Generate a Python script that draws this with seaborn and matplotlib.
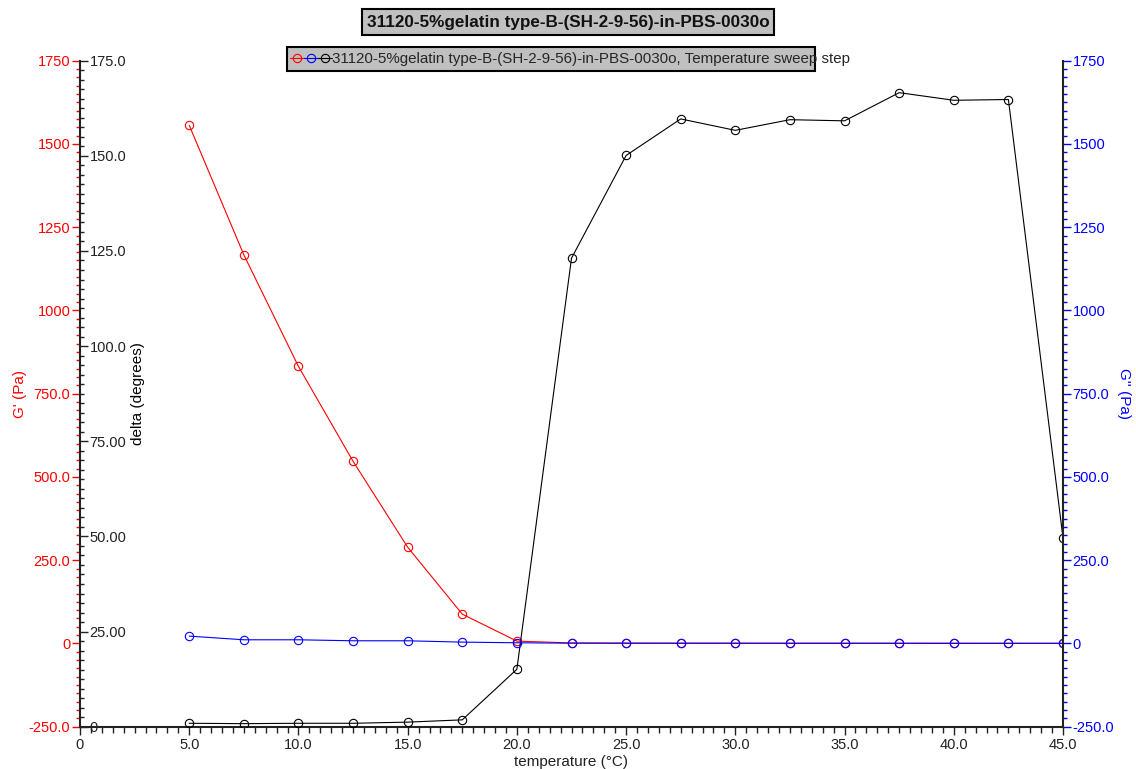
import matplotlib
matplotlib.use("Agg")
import matplotlib.pyplot as plt
from matplotlib.ticker import MultipleLocator, FixedLocator, FixedFormatter
from matplotlib.lines import Line2D
from matplotlib.legend_handler import HandlerTuple
from matplotlib.patches import Rectangle
import seaborn as sns
import pandas as pd

# ---- data -----------------------------------------------------------------
temperature = [5.0, 7.5, 10.0, 12.5, 15.0, 17.5, 20.0, 22.5, 25.0,
               27.5, 30.0, 32.5, 35.0, 37.5, 40.0, 42.5, 45.0]
g_storage = [1556, 1167, 832, 547, 289, 88, 7, 1.5, 1.2,
             1.0, 0.9, 0.8, 0.8, 0.7, 0.7, 0.6, 0.5]          # G' (Pa)
g_loss = [22, 11, 11, 8, 8, 4, 2, 0.8, 0.6,
          0.5, 0.5, 0.4, 0.4, 0.4, 0.3, 0.3, 0.3]             # G'' (Pa)
delta = [0.9, 0.8, 0.9, 0.9, 1.2, 1.8, 15.1, 123.1, 150.1,
         159.7, 156.7, 159.5, 159.2, 166.6, 164.6, 164.8, 49.6]  # degrees

x_ticks = [0, 5, 10, 15, 20, 25, 30, 35, 40, 45]
x_tick_labels = ["0", "5.0", "10.0", "15.0", "20.0", "25.0", "30.0", "35.0", "40.0", "45.0"]
g_ticks = [-250, 0, 250, 500, 750, 1000, 1250, 1500, 1750]
g_tick_labels = ["-250.0", "0", "250.0", "500.0", "750.0", "1000", "1250", "1500", "1750"]
delta_ticks = [0, 25, 50, 75, 100, 125, 150, 175]
delta_tick_labels = ["0", "25.00", "50.00", "75.00", "100.0", "125.0", "150.0", "175.0"]

title = "31120-5%gelatin type-B-(SH-2-9-56)-in-PBS-0030o"
legend_label = "31120-5%gelatin type-B-(SH-2-9-56)-in-PBS-0030o, Temperature sweep step"

df = pd.DataFrame({"temperature": temperature, "g_storage": g_storage,
                   "g_loss": g_loss, "delta": delta})

# ---- style ----------------------------------------------------------------
sns.set_style("white")
plt.rcParams["font.family"] = ["Liberation Sans", "DejaVu Sans"]
plt.rcParams["font.size"] = 10

TICK_FS = 10.5
LABEL_FS = 11

W, H = 1136, 769
fig = plt.figure(figsize=(W / 100, H / 100), dpi=100)
ax = fig.add_axes([80 / W, 42.3 / H, (1063 - 80) / W, (708.3 - 42.3) / H])
ax.patch.set_alpha(0)

mk = dict(marker="o", markersize=6, markerfacecolor="none", markeredgewidth=0.8,
          linewidth=0.8)

# G' on the left axis
sns.lineplot(data=df, x="temperature", y="g_storage", ax=ax, color="red",
             markeredgecolor="red", **mk)
ax.set_xlim(0, 45)
ax.set_ylim(-250, 1750)

# delta on an axis sharing the left edge, labels inside
ax2 = ax.twinx()
sns.lineplot(data=df, x="temperature", y="delta", ax=ax2, color="black",
             markeredgecolor="black", **mk)
ax2.set_ylim(0, 175)

# G'' on the right axis
ax3 = ax.twinx()
sns.lineplot(data=df, x="temperature", y="g_loss", ax=ax3, color="blue",
             markeredgecolor="blue", **mk)
ax3.set_ylim(-250, 1750)

# ---- spines ---------------------------------------------------------------
for a in (ax, ax2, ax3):
    for s in a.spines.values():
        s.set_visible(False)
ax.spines["left"].set_visible(True)
ax.spines["bottom"].set_visible(True)
ax3.spines["right"].set_visible(True)
for s in (ax.spines["left"], ax.spines["bottom"], ax3.spines["right"]):
    s.set_color("#222222")
    s.set_linewidth(1.5)

# ---- x axis ---------------------------------------------------------------
ax.xaxis.set_major_locator(FixedLocator(x_ticks))
ax.xaxis.set_major_formatter(FixedFormatter(x_tick_labels))
ax.xaxis.set_minor_locator(MultipleLocator(0.5))
ax.tick_params(axis="x", which="both", bottom=True, direction="out",
               colors="#222222", labelcolor="#222222", labelsize=TICK_FS)
ax.tick_params(axis="x", which="major", length=6, width=1, pad=2)
ax.tick_params(axis="x", which="minor", length=4, width=1)
ax.set_xlabel("temperature (°C)", fontsize=LABEL_FS, labelpad=2, color="#222222")

# ---- G' axis (left, red) ---------------------------------------------------
ax.yaxis.set_major_locator(FixedLocator(g_ticks))
ax.yaxis.set_major_formatter(FixedFormatter(g_tick_labels))
ax.yaxis.set_minor_locator(MultipleLocator(25))
ax.tick_params(axis="y", which="both", left=True, direction="out",
               colors="red", labelsize=TICK_FS)
ax.tick_params(axis="y", which="major", length=6, width=1, pad=1)
ax.tick_params(axis="y", which="minor", length=3, width=1)
ax.set_ylabel("G' (Pa)", color="red", fontsize=LABEL_FS, labelpad=1)

# ---- delta axis (left edge, ticks and labels inward) ----------------------
ax2.yaxis.tick_right()
ax2.spines["right"].set_position(("axes", 0))
ax2.yaxis.set_label_position("right")
ax2.yaxis.set_major_locator(FixedLocator(delta_ticks))
ax2.yaxis.set_major_formatter(FixedFormatter(delta_tick_labels))
ax2.yaxis.set_minor_locator(MultipleLocator(2.5))
ax2.tick_params(axis="y", which="both", right=True, left=False, direction="out",
                colors="#222222", labelsize=TICK_FS)
ax2.tick_params(axis="y", which="major", length=6, width=1, pad=1)
ax2.tick_params(axis="y", which="minor", length=3, width=1)
ax2.set_ylabel("delta (degrees)", color="black", fontsize=LABEL_FS, labelpad=3)

# ---- G'' axis (right, blue) ------------------------------------------------
ax3.yaxis.set_major_locator(FixedLocator(g_ticks))
ax3.yaxis.set_major_formatter(FixedFormatter(g_tick_labels))
ax3.yaxis.set_minor_locator(MultipleLocator(25))
ax3.tick_params(axis="y", which="both", right=True, direction="out",
                colors="blue", labelsize=TICK_FS)
ax3.tick_params(axis="y", which="major", length=6, width=1, pad=1)
ax3.tick_params(axis="y", which="minor", length=3, width=1)
ax3.set_ylabel("G'' (Pa)", color="blue", fontsize=LABEL_FS, rotation=270,
               va="bottom", labelpad=2)

for a in (ax, ax2, ax3):
    a.grid(False)
    leg = a.get_legend()
    if leg:
        leg.remove()

# ---- title box -------------------------------------------------------------
fig.text(0.5, 1 - 22 / H, title, ha="center", va="center", fontsize=12.3,
         fontweight="bold", color="#111111",
         bbox=dict(boxstyle="square,pad=0.3", fc="#c0c0c0", ec="black", lw=1.5))

# ---- legend ----------------------------------------------------------------
fig.add_artist(Rectangle((287 / W, 1 - 71 / H), (815 - 287) / W, 24 / H,
                         transform=fig.transFigure, fc="#c0c0c0", ec="black",
                         lw=1.5, zorder=3))
handles = tuple(
    Line2D([], [], color=c, marker="o", markersize=6, markerfacecolor="none",
           markeredgecolor=c, markeredgewidth=0.8, linewidth=0.8)
    for c in ("red", "blue", "black"))
leg = fig.legend([handles], [legend_label],
                 handler_map={tuple: HandlerTuple(ndivide=None, pad=0)},
                 loc="center left", bbox_to_anchor=(290 / W, 1 - 59 / H),
                 frameon=False, handlelength=2.8, handletextpad=0.0,
                 fontsize=10.9, borderpad=0, borderaxespad=0)
leg.set_zorder(4)

fig.savefig("out.png", dpi=100)
